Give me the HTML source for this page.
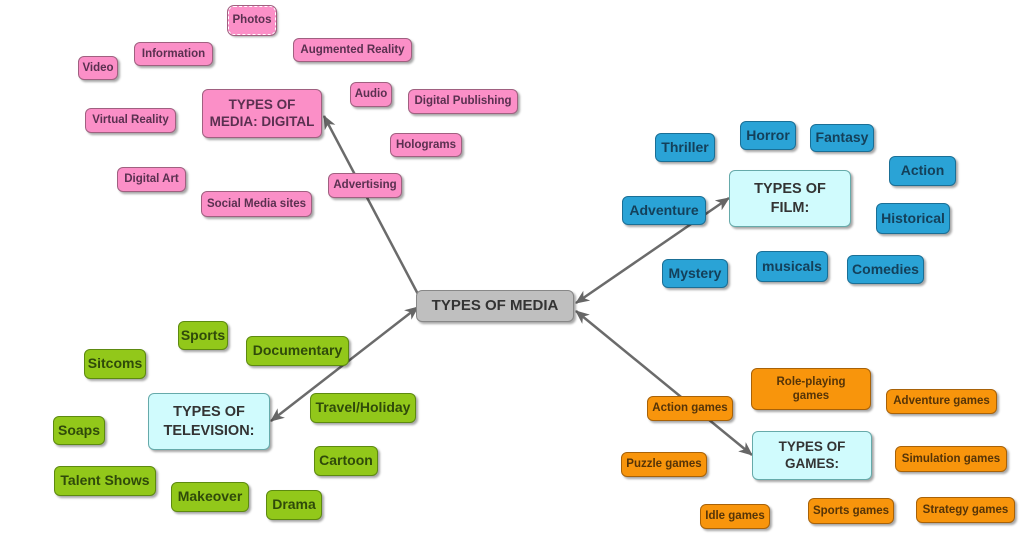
<!DOCTYPE html>
<html><head><meta charset="utf-8"><style>
body{margin:0;width:1024px;height:545px;background:#fff;position:relative;overflow:hidden;font-family:"Liberation Sans",sans-serif;font-weight:bold}
.n{position:absolute;display:flex;align-items:center;justify-content:center;text-align:center;box-sizing:border-box;border-radius:6px;box-shadow:2px 2px 2px rgba(0,0,0,.35);line-height:1.25;white-space:nowrap}
.p{background:#fb8fc7;border:1px solid #a06080;color:#5a3050;font-size:11.5px}
.b{background:#2aa3d6;border:1px solid #1a6f96;color:#14405a;font-size:14px}
.g{background:#92c81a;border:1px solid #5d8a10;color:#2f4a0a;font-size:14px}
.o{background:#f8950c;border:1px solid #a86208;color:#553408;font-size:11.5px}
.c{background:#d0fbfd;border:1px solid #6aa;color:#333;font-size:14.5px}
.m{background:#bfbfbf;border:1px solid #888;color:#333;font-size:15px}
svg{position:absolute;left:0;top:0}
</style></head><body>
<svg width="1024" height="545"><defs><marker id="a" markerWidth="14" markerHeight="12" refX="13" refY="6" orient="auto-start-reverse" markerUnits="userSpaceOnUse"><path d="M0,0 L14,6 L0,12 L4,6z" fill="#666"/></marker></defs>
<g stroke="#6b6b6b" stroke-width="2.5" fill="none">
<line x1="420" y1="298" x2="324" y2="116" marker-end="url(#a)"/>
<line x1="576" y1="303" x2="729" y2="198" marker-end="url(#a)" marker-start="url(#a)"/>
<line x1="418" y1="307" x2="271" y2="421" marker-end="url(#a)" marker-start="url(#a)"/>
<line x1="576" y1="311" x2="752" y2="455" marker-end="url(#a)" marker-start="url(#a)"/>
</g></svg>
<div class="n p" style="left:228px;top:6px;width:48px;height:29px;border:1.5px dashed #fff;outline:1px solid #a06080">Photos</div>
<div class="n p" style="left:134px;top:42px;width:79px;height:24px">Information</div>
<div class="n p" style="left:78px;top:56px;width:40px;height:24px">Video</div>
<div class="n p" style="left:293px;top:38px;width:119px;height:24px">Augmented Reality</div>
<div class="n p" style="left:202px;top:89px;width:120px;height:49px;font-size:13.5px">TYPES OF<br>MEDIA: DIGITAL</div>
<div class="n p" style="left:350px;top:82px;width:42px;height:25px">Audio</div>
<div class="n p" style="left:408px;top:89px;width:110px;height:25px">Digital Publishing</div>
<div class="n p" style="left:85px;top:108px;width:91px;height:25px">Virtual Reality</div>
<div class="n p" style="left:390px;top:133px;width:72px;height:24px">Holograms</div>
<div class="n p" style="left:117px;top:167px;width:69px;height:25px">Digital Art</div>
<div class="n p" style="left:328px;top:173px;width:74px;height:25px">Advertising</div>
<div class="n p" style="left:201px;top:191px;width:111px;height:26px">Social Media sites</div>
<div class="n m" style="left:416px;top:290px;width:158px;height:32px">TYPES OF MEDIA</div>
<div class="n b" style="left:655px;top:133px;width:60px;height:29px">Thriller</div>
<div class="n b" style="left:740px;top:121px;width:56px;height:29px">Horror</div>
<div class="n b" style="left:810px;top:124px;width:64px;height:28px">Fantasy</div>
<div class="n b" style="left:889px;top:156px;width:67px;height:30px">Action</div>
<div class="n c" style="left:729px;top:170px;width:122px;height:57px">TYPES OF<br>FILM:</div>
<div class="n b" style="left:622px;top:196px;width:84px;height:29px">Adventure</div>
<div class="n b" style="left:876px;top:203px;width:74px;height:31px">Historical</div>
<div class="n b" style="left:662px;top:259px;width:66px;height:29px">Mystery</div>
<div class="n b" style="left:756px;top:251px;width:72px;height:31px">musicals</div>
<div class="n b" style="left:847px;top:255px;width:77px;height:29px">Comedies</div>
<div class="n g" style="left:178px;top:321px;width:50px;height:29px">Sports</div>
<div class="n g" style="left:246px;top:336px;width:103px;height:30px">Documentary</div>
<div class="n g" style="left:84px;top:349px;width:62px;height:30px">Sitcoms</div>
<div class="n c" style="left:148px;top:393px;width:122px;height:57px">TYPES OF<br>TELEVISION:</div>
<div class="n g" style="left:310px;top:393px;width:106px;height:30px">Travel/Holiday</div>
<div class="n g" style="left:53px;top:416px;width:52px;height:29px">Soaps</div>
<div class="n g" style="left:314px;top:446px;width:64px;height:30px">Cartoon</div>
<div class="n g" style="left:54px;top:466px;width:102px;height:30px">Talent Shows</div>
<div class="n g" style="left:171px;top:482px;width:78px;height:30px">Makeover</div>
<div class="n g" style="left:266px;top:490px;width:56px;height:30px">Drama</div>
<div class="n o" style="left:751px;top:368px;width:120px;height:42px">Role-playing<br>games</div>
<div class="n o" style="left:647px;top:396px;width:86px;height:25px">Action games</div>
<div class="n o" style="left:886px;top:389px;width:111px;height:25px">Adventure games</div>
<div class="n c" style="left:752px;top:431px;width:120px;height:49px;font-size:13.5px">TYPES OF<br>GAMES:</div>
<div class="n o" style="left:621px;top:452px;width:86px;height:25px">Puzzle games</div>
<div class="n o" style="left:895px;top:446px;width:112px;height:26px">Simulation games</div>
<div class="n o" style="left:700px;top:504px;width:70px;height:25px">Idle games</div>
<div class="n o" style="left:808px;top:498px;width:86px;height:26px">Sports games</div>
<div class="n o" style="left:916px;top:497px;width:99px;height:26px">Strategy games</div>
</body></html>
